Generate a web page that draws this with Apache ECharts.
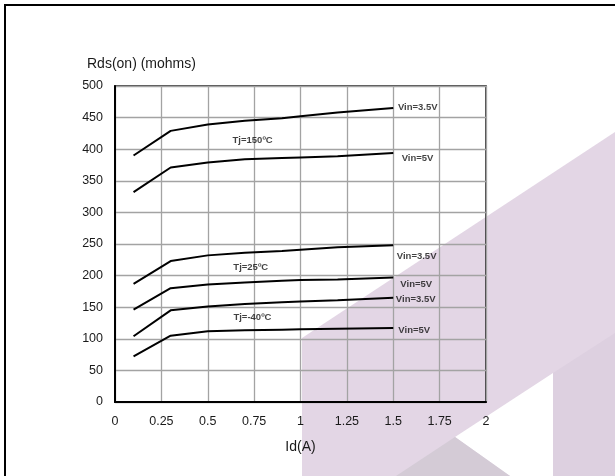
<!DOCTYPE html>
<html><head><meta charset="utf-8">
<script src="https://cdn.jsdelivr.net/npm/echarts@6/dist/echarts.min.js"></script>
<style>html,body{margin:0;padding:0;background:#fff}#c{width:615px;height:476px}</style>
</head><body><div id="c"></div>
<script>
// Data
const idValues   = [0.1, 0.3, 0.5, 0.7, 0.9, 1.0, 1.2, 1.5];
const tj150Vin35 = [390, 429, 439, 445, 449, 452, 458, 465];
const tj150Vin5  = [332, 371, 379, 384, 386, 387, 389, 394];
const tj25Vin35  = [187, 223, 232, 236, 239, 241, 245, 248];
const tj25Vin5   = [146, 180, 186, 189, 192, 193, 194, 197];
const tjm40Vin35 = [104, 145, 151, 155, 158, 159, 161, 165];
const tjm40Vin5  = [72, 105, 112, 113.5, 114.5, 115, 116, 117];

const xAxisMin = 0, xAxisMax = 2, xAxisStep = 0.25;
const yAxisMin = 0, yAxisMax = 500, yAxisStep = 50;

const annoText = ['Vin=3.5V', 'Vin=5V', 'Tj=150ºC', 'Vin=3.5V', 'Vin=5V', 'Vin=3.5V', 'Vin=5V', 'Tj=25ºC', 'Tj=-40ºC'];
const annoX    = [1.632, 1.631, 0.742, 1.626, 1.624, 1.621, 1.613, 0.732, 0.741];
const annoY    = [465.8, 385.3, 413.7, 230.8, 186, 162.5, 114, 213.4, 134.5];

const curves = [tj150Vin35, tj150Vin5, tj25Vin35, tj25Vin5, tjm40Vin35, tjm40Vin5];

const FONT = 'Liberation Sans, Arial, sans-serif';
const chart = echarts.init(document.getElementById('c'), null, {renderer: 'canvas'});

const series = curves.map(arr => ({
  type: 'line',
  data: idValues.map((x, i) => [x, arr[i]]),
  symbol: 'none',
  smooth: false,
  lineStyle: {color: '#000', width: 2},
  z: 5,
  animation: false
}));
series.push({
  type: 'scatter',
  symbolSize: 0,
  z: 6,
  animation: false,
  data: annoX.map((x, i) => ({value: [x, annoY[i]], name: annoText[i]})),
  label: {
    show: true, position: 'inside', formatter: '{b}',
    color: '#111', fontFamily: FONT, fontWeight: 'bold', fontSize: 9.5
  }
});

chart.setOption({
  animation: false,
  backgroundColor: '#fff',
  title: {
    text: 'Rds(on) (mohms)', left: 82, top: 52,
    textStyle: {fontFamily: FONT, fontSize: 14, fontWeight: 'normal', color: '#1a1a1a'}
  },
  graphic: [
    {type: 'polygon', z: -10, silent: true,
      shape: {points: [[302, 338], [615, 132], [615, 476], [302, 476]]},
      style: {fill: '#e3d6e5'}},
    {type: 'polygon', z: -9, silent: true,
      shape: {points: [[553, 373], [615, 333], [615, 476], [553, 476]]},
      style: {fill: '#ddd0e0'}},
    {type: 'polygon', z: -9, silent: true,
      shape: {points: [[553, 373], [455, 437], [510, 476], [553, 476]]},
      style: {fill: '#ffffff'}},
    {type: 'polygon', z: -9, silent: true,
      shape: {points: [[455, 437], [396, 476], [510, 476]]},
      style: {fill: '#d4cbd6'}},
    {type: 'rect', z: 100, silent: true,
      shape: {x: 5, y: 5, width: 800, height: 700},
      style: {fill: 'none', stroke: '#000', lineWidth: 2}}
  ],
  grid: {left: 115, right: 129, top: 86, bottom: 74, show: true,
    borderColor: '#111', borderWidth: 1.5, backgroundColor: 'transparent', outerBoundsMode: 'none'},
  xAxis: {
    type: 'value', min: xAxisMin, max: xAxisMax, interval: xAxisStep,
    name: 'Id(A)', nameLocation: 'middle', nameGap: 38,
    nameTextStyle: {fontFamily: FONT, fontSize: 14, color: '#1a1a1a'},
    axisLine: {show: true, lineStyle: {color: '#000', width: 2}},
    axisTick: {show: false},
    axisLabel: {fontFamily: FONT, fontSize: 12.5, color: '#1a1a1a', margin: 13},
    splitLine: {show: true, lineStyle: {color: '#a3a3a3', width: 1.3}}
  },
  yAxis: {
    type: 'value', min: yAxisMin, max: yAxisMax, interval: yAxisStep,
    axisLine: {show: true, lineStyle: {color: '#000', width: 2}},
    axisTick: {show: false},
    axisLabel: {fontFamily: FONT, fontSize: 12.5, color: '#1a1a1a', margin: 12},
    splitLine: {show: true, lineStyle: {color: '#a3a3a3', width: 1.3}}
  },
  series: series
});
</script>
</body></html>
